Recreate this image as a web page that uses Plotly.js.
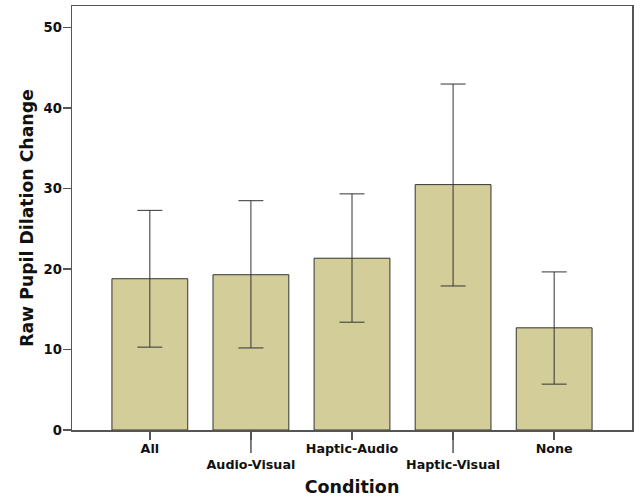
<!DOCTYPE html>
<html>
<head>
<meta charset="utf-8">
<script src="https://cdn.plot.ly/plotly-3.0.1.min.js"></script>
<style>html,body{margin:0;padding:0;background:#fff;}#chart{width:640px;height:500px;}</style>
</head>
<body>
<div id="chart"></div>
<script>
const categories = ['All', 'Audio-Visual', 'Haptic-Audio', 'Haptic-Visual', 'None'];
const means = [18.8, 19.3, 21.35, 30.5, 12.7];
const upper = [27.3, 28.5, 29.35, 43.0, 19.65];
const lower = [10.3, 10.2, 13.4, 17.9, 5.7];
const tickLabels = ['All', '<br>Audio-Visual', 'Haptic-Audio', '<br>Haptic-Visual', 'None'];
const staggered = ['Audio-Visual', 'Haptic-Visual'];
const yTicks = [0, 10, 20, 30, 40, 50];

const errPlus = means.map((m, i) => upper[i] - m);
const errMinus = means.map((m, i) => m - lower[i]);

const font = 'DejaVu Sans, Verdana, sans-serif';

const trace = {
  type: 'bar',
  x: categories,
  y: means,
  width: 0.75,
  marker: {color: '#d3ce99', line: {color: '#333333', width: 1}},
  error_y: {type: 'data', symmetric: false, array: errPlus, arrayminus: errMinus,
            color: '#333333', thickness: 1, width: 12.5},
  hoverinfo: 'none'
};

const shapes = staggered.map(c => ({
  type: 'line', xref: 'x', yref: 'paper', x0: c, x1: c, y0: 0, y1: -0.054,
  line: {color: '#555555', width: 1.5}
}));

const layout = {
  width: 640, height: 500,
  margin: {l: 72, r: 8, t: 6, b: 70},
  paper_bgcolor: '#ffffff', plot_bgcolor: '#ffffff',
  showlegend: false,
  font: {family: font, color: '#111111'},
  xaxis: {
    type: 'category', range: [-0.77, 4.77],
    tickvals: categories, ticktext: tickLabels,
    ticks: 'outside', ticklen: 8, tickwidth: 1.5, tickcolor: '#555555',
    tickfont: {family: font, size: 12.7, color: '#111111', weight: 'bold'},
    ticklabelstandoff: -2,
    showline: true, linecolor: '#555555', linewidth: 1.5, mirror: true,
    showgrid: false, zeroline: false, automargin: false,
    title: {text: '<b>Condition</b>', font: {family: font, size: 17.5, color: '#111111'}, standoff: 9}
  },
  yaxis: {
    range: [0, 52.7], tickvals: yTicks,
    ticks: 'outside', ticklen: 8, tickwidth: 1.5, tickcolor: '#555555',
    tickfont: {family: font, size: 13.2, color: '#111111', weight: 'bold'},
    ticklabelstandoff: -2,
    showline: true, linecolor: '#555555', linewidth: 1.5, mirror: true,
    showgrid: false, zeroline: false, automargin: false,
    title: {text: '<b>Raw Pupil Dilation Change</b>', font: {family: font, size: 17.3, color: '#111111'}, standoff: 5}
  },
  shapes: shapes
};

Plotly.newPlot('chart', [trace], layout, {staticPlot: true, displayModeBar: false});
</script>
</body>
</html>
